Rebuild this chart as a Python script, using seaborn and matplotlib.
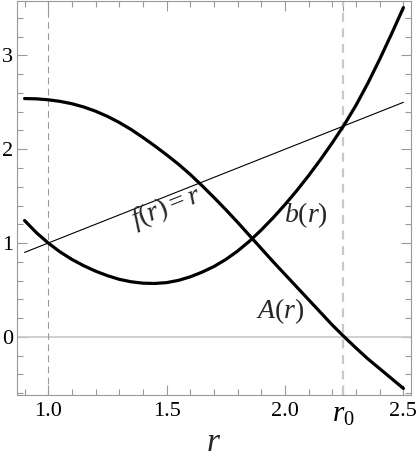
import numpy as np
import pandas as pd
import matplotlib
matplotlib.use('Agg')
import matplotlib.pyplot as plt
import seaborn as sns

# ---------- data ----------
r_vals = [0.9, 0.95, 1.0, 1.05, 1.1, 1.15, 1.2, 1.25, 1.3, 1.35, 1.4, 1.45, 1.5,
          1.55, 1.6, 1.65, 1.7, 1.75, 1.8, 1.85, 1.9, 1.95, 2.0, 2.05, 2.1,
          2.15, 2.2, 2.25, 2.3, 2.35, 2.4, 2.45, 2.5]
A_vals = [2.54, 2.537, 2.527, 2.51, 2.485, 2.45, 2.405, 2.35, 2.285, 2.21, 2.125,
          2.035, 1.94, 1.84, 1.73, 1.61, 1.485, 1.355, 1.22, 1.08, 0.94, 0.80,
          0.665, 0.53, 0.395, 0.26, 0.125, 0.0, -0.12, -0.235, -0.34, -0.445, -0.55]
b_vals = [1.24, 1.11, 1.00, 0.905, 0.825, 0.758, 0.70, 0.652, 0.613, 0.587, 0.572,
          0.569, 0.578, 0.602, 0.64, 0.69, 0.75, 0.825, 0.915, 1.02, 1.14, 1.27,
          1.41, 1.56, 1.72, 1.89, 2.07, 2.26, 2.47, 2.705, 2.96, 3.23, 3.51]
f_r = [0.9, 2.5]
f_vals = [0.9, 2.5]
r0 = 2.245

xticks = [1.0, 1.5, 2.0, r0, 2.5]
xticklabels = ['1.0', '1.5', '2.0', '$r_0$', '2.5']
yticks = [0, 1, 2, 3]

# ---------- style ----------
sns.set_style('ticks')
plt.rcParams['font.family'] = ['Liberation Serif', 'DejaVu Serif']
plt.rcParams['mathtext.fontset'] = 'custom'
plt.rcParams['mathtext.rm'] = 'Liberation Serif'
plt.rcParams['mathtext.it'] = 'Liberation Serif:italic'

fig = plt.figure(figsize=(4.17, 4.63), dpi=100)
ax = fig.add_axes([17/417, 1-395/463, 394/417, 394/463])

# reference lines
ax.axhline(0, color='#c8c8c8', lw=1.2, zorder=1)
ax.axvline(1.0, color='#999999', lw=0.8, dashes=(6, 4), zorder=1)
ax.axvline(r0, color='#c8c8c8', lw=1.6, dashes=(4, 3), zorder=1)

# curves
sns.lineplot(x=f_r, y=f_vals, color='black', lw=0.8, ax=ax, zorder=3)
sns.lineplot(x=r_vals, y=b_vals, color='black', lw=2.3, ax=ax, zorder=4)
sns.lineplot(x=r_vals, y=A_vals, color='black', lw=2.3, ax=ax, zorder=4)

# labels on the curves
ax.text(1.50, 1.38, '$f(r)=r$', fontsize=20, rotation=21.7,
        ha='center', va='center')
ax.text(2.09, 1.30, '$b(r)$', fontsize=20, ha='center', va='center')
ax.text(1.98, 0.27, '$A(r)$', fontsize=20, ha='center', va='center')

# axes
ax.set_xlim(0.868, 2.532)
ax.set_ylim(-0.62, 3.58)
ax.set_xticks(xticks)
ax.set_xticklabels(xticklabels)
ax.set_xticks(np.round(np.arange(0.9, 2.55, 0.1), 2), minor=True)
ax.set_yticks(yticks)
ax.set_yticks(np.round(np.arange(-0.6, 3.5, 0.2), 2), minor=True)
ax.tick_params(which='both', direction='in', top=True, right=True,
               color='#999999', labelsize=16, labelcolor='black')
ax.tick_params(which='major', length=7, width=0.8)
ax.tick_params(which='minor', length=4, width=0.8)
ax.tick_params(axis='x', pad=5)
ax.tick_params(axis='y', pad=3)
ax.get_xticklabels()[3].set_fontsize(21)
for s in ax.spines.values():
    s.set_color('#999999')
    s.set_linewidth(0.8)

ax.set_xlabel('$r$', fontsize=24, labelpad=0)
ax.set_ylabel('')

plt.savefig('out.png', dpi=100)
